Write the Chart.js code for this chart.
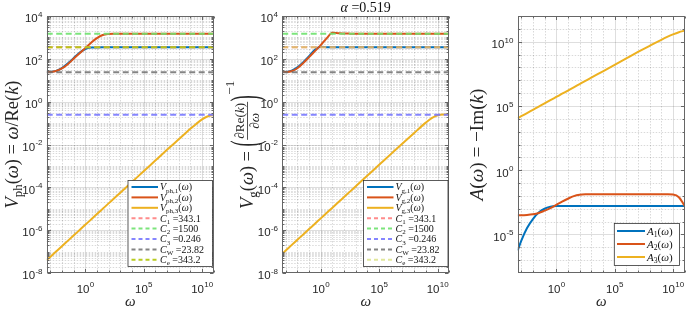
<!DOCTYPE html>
<html><head><meta charset="utf-8">
<script src="https://cdn.jsdelivr.net/npm/chart.js@4.4.0/dist/chart.umd.min.js"></script>
<style>
html,body{margin:0;padding:0;background:#fff;}
#wrap{position:relative;width:687px;height:311px;background:#fff;}
canvas{position:absolute;left:0;top:0;}
</style></head><body>
<div id="wrap">
<canvas id="c1" width="687" height="311"></canvas>
<canvas id="c2" width="687" height="311"></canvas>
<canvas id="c3" width="687" height="311"></canvas>
</div>
<script>
// ---------------- data ----------------
const omega = [5e-4,1e-3,3.16e-3,1e-2,3.16e-2,0.1,0.316,1,3.16,10,31.6,100,316,1e3,1e4,1e5,1e6,1e7,1e8,1e9,3.16e9,1e10,3.16e10,1e11];

const Vph1 = [23.82,24.5,27.5,37.2,60.3,107,190.5,288.4,335,342,343.1,343.1,343.1,343.1,343.1,343.1,343.1,343.1,343.1,343.1,343.1,343.1,343.1,343.1];
const Vph2 = [23.82,24.3,26.9,35.5,56.2,100,178,316,562,933,1288,1445,1489,1500,1500,1500,1500,1500,1500,1500,1500,1500,1500,1500];
const Vph3 = [3.98e-8,5.62e-8,1e-7,1.78e-7,3.16e-7,5.62e-7,1e-6,1.78e-6,3.16e-6,5.62e-6,1e-5,1.78e-5,3.16e-5,5.62e-5,1.78e-4,5.62e-4,1.78e-3,5.62e-3,0.0174,0.0537,0.0912,0.148,0.209,0.237];

const Vg1 = [23.82,24.5,28.2,39.8,69.2,131.8,263,362,350,344,343.1,343.1,343.1,343.1,343.1,343.1,343.1,343.1,343.1,343.1,343.1,343.1,343.1,343.1];
const Vg2 = [23.82,24.3,26.3,36.3,63.1,120,229,437,900,1650,1580,1520,1503,1500,1500,1500,1500,1500,1500,1500,1500,1500,1500,1500];
const Vg3 = [7.94e-8,1.12e-7,2e-7,3.55e-7,6.31e-7,1.12e-6,2e-6,3.55e-6,6.31e-6,1.12e-5,2e-5,3.55e-5,6.31e-5,1.12e-4,3.55e-4,1.12e-3,3.55e-3,0.0112,0.0347,0.105,0.17,0.234,0.251,0.2466];

const A1 = [5.62e-7,3.16e-6,3.16e-5,1.58e-4,5.01e-4,1e-3,1.41e-3,1.62e-3,1.66e-3,1.66e-3,1.66e-3,1.66e-3,1.66e-3,1.66e-3,1.66e-3,1.66e-3,1.66e-3,1.66e-3,1.66e-3,1.66e-3,1.66e-3,1.66e-3,1.66e-3,1.66e-3];
const A2 = [3.16e-4,3.16e-4,3.31e-4,3.72e-4,4.68e-4,7.08e-4,1.12e-3,2e-3,3.55e-3,6.03e-3,9.55e-3,0.0123,0.0132,0.0133,0.0133,0.0133,0.0133,0.0133,0.0133,0.0133,0.0132,0.0126,7.94e-3,1.66e-3];
const A3 = [1.12e4,1.58e4,2.82e4,5.01e4,8.91e4,1.58e5,2.82e5,5.01e5,8.91e5,1.58e6,2.82e6,5.01e6,8.91e6,1.58e7,5.01e7,1.58e8,5.01e8,1.58e9,4.79e9,1.41e10,2.34e10,3.72e10,5.5e10,7.24e10];

const cSubs   = ['1','2','3','W','e'];
const cValues = [343.1, 1500, 0.246, 23.82, 343.2];

const phLabels = ['*V*_{ph,1}(*ω*)','*V*_{ph,2}(*ω*)','*V*_{ph,3}(*ω*)'];
const gLabels  = ['*V*_{g,1}(*ω*)','*V*_{g,2}(*ω*)','*V*_{g,3}(*ω*)'];
const aLabels  = ['*A*_{1}(*ω*)','*A*_{2}(*ω*)','*A*_{3}(*ω*)'];
const titleText = '*α* =0.519';

const xMin = 5e-4, xMax = 1e11;
const yVMin = 1e-8, yVMax = 1e4;
const yAMin = 1e-8, yAMax = 1e12;
const xTickExp  = [0, 5, 10];
const yVTickExp = [4, 2, 0, -2, -4, -6, -8];
const yATickExp = [10, 5, 0, -5];

// ---------------- styling ----------------
const SERIF = "'Liberation Serif','DejaVu Serif',serif";
const SANS  = "'Liberation Sans',Arial,Helvetica,sans-serif";
const BLUE = '#0072BD', RED = '#D95319', YEL = '#EDB120';
const cColors1 = ['rgba(255,120,120,0.85)','rgba(110,225,110,0.9)','rgba(120,120,255,0.9)','rgba(110,110,110,0.85)','rgba(180,200,20,0.95)'];
const cColors2 = ['rgba(255,120,120,0.85)','rgba(110,225,110,0.9)','rgba(120,120,255,0.9)','rgba(110,110,110,0.85)','rgba(205,215,90,0.6)'];

const PANELS = {
  c1: {L:46.7, R:213.7, T:16, B:273},
  c2: {L:282.2, R:449.2, T:16, B:273},
  c3: {L:517.7, R:684.7, T:16, B:273}
};

// ---------------- rich text helpers ----------------
function parseRich(s){
  const out=[]; let it=false, lvl=0, buf='';
  const push=()=>{ if(buf){ out.push({t:buf,it,lvl}); buf=''; } };
  for(let i=0;i<s.length;i++){
    const c=s[i];
    if(c==='*'){ push(); it=!it; }
    else if((c==='_'||c==='^') && s[i+1]==='{'){ push(); lvl = c==='_'?-1:1; i++; }
    else if(c==='}' && lvl!==0){ push(); lvl=0; }
    else buf+=c;
  }
  push(); return out;
}
function segFont(s,size){ const sz = s.lvl? size*0.7 : size; return (s.it?'italic ':'')+sz.toFixed(2)+'px '+SERIF; }
function richWidth(ctx,segs,size){ let w=0; segs.forEach(s=>{ ctx.font=segFont(s,size); w+=ctx.measureText(s.t).width; }); return w; }
function drawRich(ctx,segs,x,y,size,align){
  const w=richWidth(ctx,segs,size);
  let cx = align==='center'? x-w/2 : align==='right'? x-w : x;
  ctx.textAlign='left'; ctx.textBaseline='alphabetic';
  segs.forEach(s=>{
    ctx.font=segFont(s,size);
    const dy = s.lvl===-1? size*0.22 : s.lvl===1? -size*0.42 : 0;
    ctx.fillText(s.t,cx,y+dy); cx+=ctx.measureText(s.t).width;
  });
  return w;
}
function drawPow(ctx,exp,x,yBase,align){
  const base='10', e=String(exp);
  ctx.font='11.5px '+SANS; const wb=ctx.measureText(base).width;
  ctx.font='8px '+SANS; const we=ctx.measureText(e).width;
  const tot=wb+we;
  let x0 = align==='center'? x-tot/2 : x-tot;
  ctx.textAlign='left'; ctx.textBaseline='alphabetic';
  ctx.font='11.5px '+SANS; ctx.fillText(base,x0,yBase);
  ctx.font='8px '+SANS; ctx.fillText(e,x0+wb+0.3,yBase-5.4);
}
function rotatedRich(ctx,str,cx,cy,target,baseSize){
  const segs=parseRich(str);
  const nat=richWidth(ctx,segs,baseSize);
  const size = target? baseSize*target/nat : baseSize;
  ctx.save(); ctx.translate(cx,cy); ctx.rotate(-Math.PI/2);
  drawRich(ctx,segs,0,size*0.3,size,'center');
  ctx.restore();
  return size;
}
function drawVgLabel(ctx,cx,cy,size){
  const p1=parseRich('*V*_{g}(*ω*) = ');
  const num=parseRich('∂Re(*k*)'), den=parseRich('∂*ω*'), sup=parseRich('−1');
  const fs=size*0.72;
  ctx.save(); ctx.translate(cx,cy); ctx.rotate(-Math.PI/2);
  const w1=richWidth(ctx,p1,size);
  ctx.font=size+'px '+SERIF; const wp=ctx.measureText('(').width;
  const wn=richWidth(ctx,num,fs), wd=richWidth(ctx,den,fs), wf=Math.max(wn,wd)+3;
  const ws=richWidth(ctx,sup,fs);
  const total=w1+wp+wf+wp+ws+1;
  const base=size*0.3;
  let x0=-total/2;
  drawRich(ctx,p1,x0,base,size,'left'); x0+=w1;
  const axis=base-size*0.27;
  const bigParen=(ch,x)=>{ ctx.save(); ctx.translate(x,axis); ctx.scale(1,2.2); ctx.font=size+'px '+SERIF; ctx.textAlign='left'; ctx.textBaseline='alphabetic'; ctx.fillText(ch,0,size*0.25); ctx.restore(); };
  bigParen('(',x0); x0+=wp;
  drawRich(ctx,num,x0+(wf-wn)/2,axis-size*0.2,fs,'left');
  drawRich(ctx,den,x0+(wf-wd)/2,axis+size*0.64,fs,'left');
  ctx.fillRect(x0+0.5,axis-0.4,wf-1,0.8);
  x0+=wf;
  bigParen(')',x0); x0+=wp+0.5;
  drawRich(ctx,sup,x0,base-size*1.0,fs,'left');
  ctx.restore();
}

// ---------------- grid / tick positions ----------------
function decadeList(a,b,skip){ const r=[]; for(let e=a;e<=b;e++){ if(!skip.includes(e)) r.push(Math.pow(10,e)); } return r; }
function fullMinor(a,b,skip){ const r=[]; for(let e=a;e<=b;e++){ for(let n=1;n<=9;n++){ if(n===1 && skip.includes(e)) continue; r.push(n*Math.pow(10,e)); } } return r; }
const xMajor = xTickExp.map(e=>Math.pow(10,e));
const xMinor = decadeList(-3,11,xTickExp);
const yVMajor = yVTickExp.map(e=>Math.pow(10,e));
const yVMinor = fullMinor(-8,3,yVTickExp);
const yAMajor = yATickExp.map(e=>Math.pow(10,e));
const yAMinor = decadeList(-7,11,yATickExp);

const CFG = {
  c1: {xMajor,xMinor,yMajor:yVMajor,yMinor:yVMinor,yExp:yVTickExp,
       legend:{x0:128,x1:212.5,y0:180.5,y1:266.5,row0:187,dy:10.4,lx0:131.5,lx1:158,tx:160,size:10},
       ylabel:{type:'rich',text:'*V*_{ph}(*ω*) = *ω*/Re(*k*)',cx:12,target:128}},
  c2: {xMajor,xMinor,yMajor:yVMajor,yMinor:yVMinor,yExp:yVTickExp,
       legend:{x0:363.5,x1:448,y0:180.5,y1:266.5,row0:187,dy:10.4,lx0:367,lx1:393.5,tx:395.5,size:10},
       ylabel:{type:'vg',cx:247},title:true},
  c3: {xMajor,xMinor,yMajor:yAMajor,yMinor:yAMinor,yExp:yATickExp,
       legend:{x0:614.3,x1:679.5,y0:223.5,y1:265.5,row0:231,dy:13,lx0:617,lx1:645,tx:647,size:11},
       ylabel:{type:'rich',text:'*A*(*ω*) = −Im(*k*)',cx:477,target:112}}
};

let labelSize=15;

const matlabPlugin={
  id:'matlabLook',
  beforeDatasetsDraw(chart){
    const cfg=CFG[chart.canvas.id]; const {ctx,chartArea:a}=chart; const x=chart.scales.x, y=chart.scales.y;
    ctx.save();
    ctx.lineWidth=1;
    ctx.strokeStyle='rgba(0,0,0,0.15)'; ctx.setLineDash([1.5,1.5]);
    ctx.beginPath();
    cfg.xMinor.forEach(v=>{ const p=Math.round(x.getPixelForValue(v))+0.5; if(p>a.left+1&&p<a.right-1){ ctx.moveTo(p,a.top); ctx.lineTo(p,a.bottom);} });
    cfg.yMinor.forEach(v=>{ const p=Math.round(y.getPixelForValue(v))+0.5; if(p>a.top+1&&p<a.bottom-1){ ctx.moveTo(a.left,p); ctx.lineTo(a.right,p);} });
    ctx.stroke();
    ctx.setLineDash([]); ctx.strokeStyle='rgba(0,0,0,0.13)';
    ctx.beginPath();
    cfg.xMajor.forEach(v=>{ const p=Math.round(x.getPixelForValue(v))+0.5; ctx.moveTo(p,a.top); ctx.lineTo(p,a.bottom); });
    cfg.yMajor.forEach(v=>{ const p=Math.round(y.getPixelForValue(v))+0.5; if(p>a.top+1&&p<a.bottom-1){ ctx.moveTo(a.left,p); ctx.lineTo(a.right,p);} });
    ctx.stroke();
    ctx.restore();
  },
  afterDatasetsDraw(chart){
    const id=chart.canvas.id, cfg=CFG[id]; const {ctx,chartArea:a}=chart; const x=chart.scales.x, y=chart.scales.y;
    ctx.save();
    ctx.strokeStyle='#666'; ctx.lineWidth=1; ctx.setLineDash([]);
    const L=Math.round(a.left)+0.5, R=Math.round(a.right)-0.5, T=Math.round(a.top)+0.5, B=Math.round(a.bottom)-0.5;
    ctx.strokeRect(L,T,R-L,B-T);
    ctx.beginPath();
    const tx=(v,len)=>{ const p=Math.round(x.getPixelForValue(v))+0.5; ctx.moveTo(p,B); ctx.lineTo(p,B-len); ctx.moveTo(p,T); ctx.lineTo(p,T+len); };
    const ty=(v,len)=>{ const p=Math.round(y.getPixelForValue(v))+0.5; ctx.moveTo(L,p); ctx.lineTo(L+len,p); ctx.moveTo(R,p); ctx.lineTo(R-len,p); };
    cfg.xMajor.forEach(v=>tx(v,3.5)); cfg.xMinor.forEach(v=>tx(v,2));
    cfg.yMajor.forEach(v=>ty(v,3.5)); cfg.yMinor.forEach(v=>ty(v,2));
    ctx.stroke();
    ctx.fillStyle='#262626';
    xTickExp.forEach(e=>{ drawPow(ctx,e,x.getPixelForValue(Math.pow(10,e)),a.bottom+19.5,'center'); });
    cfg.yExp.forEach(e=>{ drawPow(ctx,e,a.left-4.5,y.getPixelForValue(Math.pow(10,e))+6.3,'right'); });
    const lg=cfg.legend;
    ctx.fillStyle='#fff'; ctx.fillRect(lg.x0,lg.y0,lg.x1-lg.x0,lg.y1-lg.y0);
    ctx.strokeStyle='#333'; ctx.lineWidth=0.8; ctx.strokeRect(lg.x0,lg.y0,lg.x1-lg.x0,lg.y1-lg.y0);
    chart.data.datasets.forEach((d,i)=>{
      const yc=lg.row0+i*lg.dy;
      ctx.save(); ctx.strokeStyle=d.borderColor; ctx.lineWidth=2;
      ctx.setLineDash(d.borderDash&&d.borderDash.length?[4,3]:[]);
      ctx.beginPath(); ctx.moveTo(lg.lx0,yc); ctx.lineTo(lg.lx1,yc); ctx.stroke(); ctx.restore();
      ctx.fillStyle='#111';
      drawRich(ctx,parseRich(d.label),lg.tx,yc+lg.size*0.33,lg.size,'left');
    });
    ctx.fillStyle='#262626';
    const cy=(a.top+a.bottom)/2;
    if(cfg.ylabel.type==='rich'){ const s=rotatedRich(ctx,cfg.ylabel.text,cfg.ylabel.cx,cy,cfg.ylabel.target,16); if(id==='c1') labelSize=s; }
    else drawVgLabel(ctx,cfg.ylabel.cx,cy,labelSize);
    drawRich(ctx,parseRich('*ω*'),(a.left+a.right)/2,305.5,15,'center');
    if(cfg.title){ ctx.fillStyle='#111'; drawRich(ctx,parseRich(titleText),(a.left+a.right)/2,12,14,'center'); }
    ctx.restore();
  }
};

function curve(vals,color,label,order){
  return {label,data:omega.map((w,i)=>({x:w,y:vals[i]})),borderColor:color,backgroundColor:color,borderWidth:2,pointRadius:0,cubicInterpolationMode:'monotone',order,clip:0};
}
function hline(v,color,label,order){
  return {label,data:[{x:xMin,y:v},{x:xMax,y:v}],borderColor:color,backgroundColor:color,borderWidth:2,borderDash:[6,3.5],pointRadius:0,order,clip:0};
}
function cSets(colors){ return cValues.map((v,i)=>hline(v,colors[i],'*C*_{'+cSubs[i]+'} ='+v,5-i)); }

function makeChart(id,datasets,yMin,yMax){
  const P=PANELS[id];
  return new Chart(document.getElementById(id),{
    type:'line',
    data:{datasets},
    plugins:[matlabPlugin],
    options:{
      responsive:false,animation:false,events:[],
      layout:{padding:{left:P.L,right:687-P.R,top:P.T,bottom:311-P.B}},
      plugins:{legend:{display:false},tooltip:{enabled:false},title:{display:false}},
      scales:{
        x:{type:'logarithmic',min:xMin,max:xMax,display:false},
        y:{type:'logarithmic',min:yMin,max:yMax,display:false}
      }
    }
  });
}

makeChart('c1',[curve(Vph1,BLUE,phLabels[0],13),curve(Vph2,RED,phLabels[1],12),curve(Vph3,YEL,phLabels[2],11)].concat(cSets(cColors1)),yVMin,yVMax);
makeChart('c2',[curve(Vg1,BLUE,gLabels[0],13),curve(Vg2,RED,gLabels[1],12),curve(Vg3,YEL,gLabels[2],11)].concat(cSets(cColors2)),yVMin,yVMax);
makeChart('c3',[curve(A1,BLUE,aLabels[0],13),curve(A2,RED,aLabels[1],12),curve(A3,YEL,aLabels[2],11)],yAMin,yAMax);
</script>
</body></html>
